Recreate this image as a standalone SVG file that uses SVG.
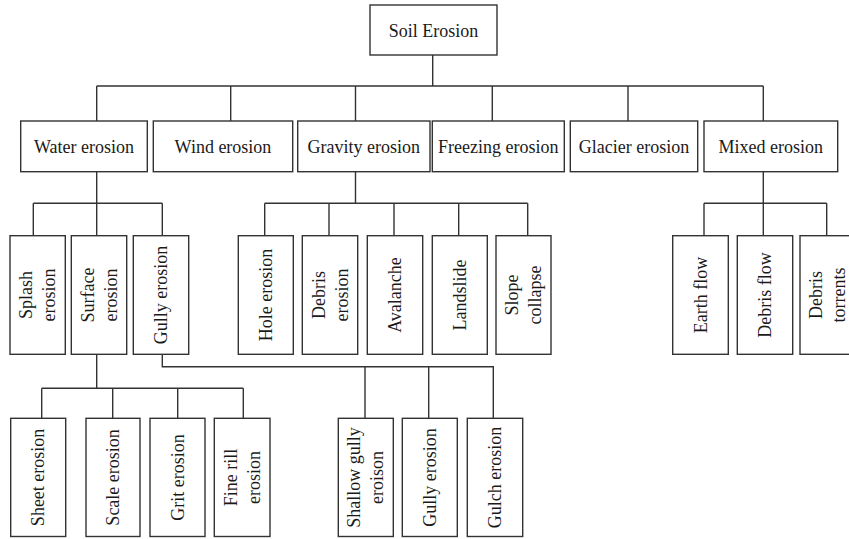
<svg xmlns="http://www.w3.org/2000/svg" width="849" height="539" viewBox="0 0 849 539">
<style>
rect.box{fill:#fff;stroke:#333;stroke-width:1.4}
#connectors path{fill:none;stroke:#333;stroke-width:1.4}
text{font-family:"Liberation Serif","Times New Roman",serif;font-size:18px;fill:#1a1a1a;text-anchor:middle}
</style>
<rect width="849" height="539" fill="#fff"/>
<g id="connectors">
<path d="M432.7 55V86M96.7 86H763.3M96.7 86V121M230.7 86V121M355.5 86V121M492.3 86V121M628 86V121M763.3 86V121"/>
<path d="M96.7 171.7V203.3M33.3 203.3H162.3M33.3 203.3V235.7M96.7 203.3V235.7M162.3 203.3V235.7"/>
<path d="M355.5 171.7V203.3M264.7 203.3H527.7M264.7 203.3V235.7M329 203.3V235.7M394 203.3V235.7M458.7 203.3V235.7M527.7 203.3V235.7"/>
<path d="M763.3 171.7V203.3M704 203.3H826.7M704 203.3V235.7M763.3 203.3V235.7M826.7 203.3V235.7"/>
<path d="M96.7 354.3V388.3M41.7 388.3H243.3M41.7 388.3V418.3M112.7 388.3V418.3M177.7 388.3V418.3M243.3 388.3V418.3"/>
<path d="M162.3 354.3V366.7H493.3V418.3M365 366.7V418.3M428.7 366.7V418.3"/>
</g>
<g id="soil-erosion"><rect class="box" x="370" y="5" width="127" height="50"/><text x="433.5" y="37">Soil Erosion</text></g>
<g id="water-erosion"><rect class="box" x="20.7" y="121" width="126.6" height="50.7"/><text x="84" y="153">Water erosion</text></g>
<g id="wind-erosion"><rect class="box" x="153.3" y="121" width="139.4" height="50.7"/><text x="223" y="153">Wind erosion</text></g>
<g id="gravity-erosion"><rect class="box" x="297.7" y="121" width="132.3" height="50.7"/><text x="363.8" y="153">Gravity erosion</text></g>
<g id="freezing-erosion"><rect class="box" x="432.3" y="121" width="132" height="50.7"/><text x="498.3" y="153">Freezing erosion</text></g>
<g id="glacier-erosion"><rect class="box" x="570.3" y="121" width="127.4" height="50.7"/><text x="634" y="153">Glacier erosion</text></g>
<g id="mixed-erosion"><rect class="box" x="704" y="121" width="133.7" height="50.7"/><text x="770.8" y="153">Mixed erosion</text></g>

<g id="splash-erosion"><rect class="box" x="10" y="235.7" width="55.3" height="118.6"/><text transform="translate(37.7 295) rotate(-90)"><tspan x="0" y="-5.5">Splash</tspan><tspan x="0" y="17.5">erosion</tspan></text></g>
<g id="surface-erosion"><rect class="box" x="71.3" y="235.7" width="55.4" height="118.6"/><text transform="translate(99 295) rotate(-90)"><tspan x="0" y="-5.5">Surface</tspan><tspan x="0" y="17.5">erosion</tspan></text></g>
<g id="gully-erosion"><rect class="box" x="133.3" y="235.7" width="55.4" height="118.6"/><text transform="translate(161 295) rotate(-90)" y="6">Gully erosion</text></g>
<g id="hole-erosion"><rect class="box" x="238.3" y="235.7" width="55" height="118.6"/><text transform="translate(265.8 295) rotate(-90)" y="6">Hole erosion</text></g>
<g id="debris-erosion"><rect class="box" x="302.3" y="235.7" width="55.4" height="118.6"/><text transform="translate(330 295) rotate(-90)"><tspan x="0" y="-5.5">Debris</tspan><tspan x="0" y="17.5">erosion</tspan></text></g>
<g id="avalanche"><rect class="box" x="367.3" y="235.7" width="55.4" height="118.6"/><text transform="translate(395 295) rotate(-90)" y="6">Avalanche</text></g>
<g id="landslide"><rect class="box" x="432.3" y="235.7" width="55" height="118.6"/><text transform="translate(459.8 295) rotate(-90)" y="6">Landslide</text></g>
<g id="slope-collapse"><rect class="box" x="496" y="235.7" width="55" height="118.6"/><text transform="translate(523.5 295) rotate(-90)"><tspan x="0" y="-5.5">Slope</tspan><tspan x="0" y="17.5">collapse</tspan></text></g>
<g id="earth-flow"><rect class="box" x="672.7" y="235.7" width="55.6" height="118.6"/><text transform="translate(700.5 295) rotate(-90)" y="6">Earth flow</text></g>
<g id="debris-flow"><rect class="box" x="737.3" y="235.7" width="55.4" height="118.6"/><text transform="translate(765 295) rotate(-90)" y="6">Debris flow</text></g>
<g id="debris-torrents"><rect class="box" x="800" y="235.7" width="55" height="118.6"/><text transform="translate(827.5 295) rotate(-90)"><tspan x="0" y="-5.5">Debris</tspan><tspan x="0" y="17.5">torrents</tspan></text></g>

<g id="sheet-erosion"><rect class="box" x="10.7" y="418.3" width="55" height="118.2"/><text transform="translate(38.2 477.4) rotate(-90)" y="6">Sheet erosion</text></g>
<g id="scale-erosion"><rect class="box" x="86" y="418.3" width="54" height="118.2"/><text transform="translate(113 477.4) rotate(-90)" y="6">Scale erosion</text></g>
<g id="grit-erosion"><rect class="box" x="150" y="418.3" width="55" height="118.2"/><text transform="translate(177.5 477.4) rotate(-90)" y="6">Grit erosion</text></g>
<g id="fine-rill-erosion"><rect class="box" x="214.3" y="418.3" width="55.7" height="118.2"/><text transform="translate(242.2 477.4) rotate(-90)"><tspan x="0" y="-5.5">Fine rill</tspan><tspan x="0" y="17.5">erosion</tspan></text></g>
<g id="shallow-gully-eroison"><rect class="box" x="338.3" y="418.3" width="55" height="118.2"/><text transform="translate(365.8 477.4) rotate(-90)"><tspan x="0" y="-5.5">Shallow gully</tspan><tspan x="0" y="17.5">eroison</tspan></text></g>
<g id="gully-erosion-2"><rect class="box" x="402.3" y="418.3" width="55" height="118.2"/><text transform="translate(429.8 477.4) rotate(-90)" y="6">Gully erosion</text></g>
<g id="gulch-erosion"><rect class="box" x="467.3" y="418.3" width="55.4" height="118.2"/><text transform="translate(495 477.4) rotate(-90)" y="6">Gulch erosion</text></g>
</svg>
